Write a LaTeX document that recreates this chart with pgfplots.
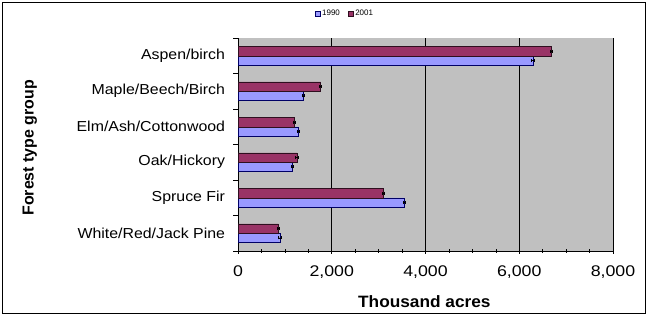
\documentclass[border=0pt]{standalone}
\usepackage{pgfplots}
\pgfplotsset{compat=1.18}
\usepackage{fontspec}
\setmainfont{Liberation Sans}
\definecolor{c1990}{HTML}{9999FF}
\definecolor{c2001}{HTML}{993366}
\definecolor{plotbg}{HTML}{C0C0C0}
\pgfplotstableread{
y x1990 x2001
0 890 862
1 3541 3099
2 1154 1254
3 1282 1197
4 1389 1760
5 6290 6682
}\data
\begin{document}
\begin{tikzpicture}
\useasboundingbox (0,0) rectangle (647bp,316bp);
\draw[black, line width=1bp] (2bp,2bp) rectangle (645bp,313bp);
\begin{axis}[
  at={(238bp,65bp)}, anchor=south west,
  scale only axis, width=375bp, height=213bp,
  xbar, xmin=0, xmax=8000, ymin=-0.5, ymax=5.5,
  axis background/.style={fill=plotbg},
  axis x line*=bottom, axis y line*=left,
  axis line style={black, line width=0.8bp},
  xtick={0,2000,4000,6000,8000},
  minor x tick num=3,
  xmajorgrids, major grid style={black, line width=0.8bp},
  x tick style={black, line width=0.6bp}, tick align=center,
  major tick length=5bp, minor tick length=3bp,
  /pgf/number format/assume math mode=true,
  /pgf/number format/1000 sep={,},
  xticklabel style={font=\fontsize{15.5}{15.5}\selectfont, xscale=1.15, yshift=-9bp},
  ytick={0,1,2,3,4,5},
  yticklabels={White/Red/Jack Pine, Spruce Fir, Oak/Hickory, Elm/Ash/Cottonwood, Maple/Beech/Birch, Aspen/birch},
  y tick style={draw=none},
  yticklabel style={font=\fontsize{14.5}{14.5}\selectfont, xscale=1.1, xshift=-6bp, anchor=east},
  extra y ticks={-0.5,0.5,1.5,2.5,3.5,4.5,5.5},
  extra y tick labels={},
  extra y tick style={tick align=outside, y tick style={draw=black, line width=0.6bp}, major tick length=5bp},
  xlabel={\textbf{Thousand acres}},
  xlabel style={font=\fontsize{16.5}{16.5}\selectfont, xscale=1.05, at={(axis description cs:0.497,-0.24)}, anchor=center},
  ylabel={\textbf{Forest type group}},
  ylabel style={font=\fontsize{16}{16}\selectfont, at={(axis description cs:-0.555,0.484)}, anchor=center},
  bar width=9.3bp,
  legend style={at={(axis description cs:0.285,1.113)}, anchor=center, draw=none, fill=none,
    font=\fontsize{8}{8}\selectfont, legend columns=2, /tikz/every even column/.append style={column sep=6bp}},
  legend image code/.code={\draw[#1] (0bp,-2.5bp) rectangle (5bp,2.5bp);},
]
\addplot[fill=c1990, draw=blue!40!black, line width=0.4bp, bar shift=-4.65bp,
  error bars/.cd, x dir=both, x fixed=25, error bar style={black, line width=0.6bp}, error mark options={rotate=90, mark size=1.5bp, black}]
  table[x=x1990, y=y] {\data};
\addplot[fill=c2001, draw=black!70!c2001, line width=0.4bp, bar shift=4.65bp,
  error bars/.cd, x dir=both, x fixed=25, error bar style={black, line width=0.6bp}, error mark options={rotate=90, mark size=1.5bp, black}]
  table[x=x2001, y=y] {\data};
\legend{1990, 2001}
\end{axis}
\end{tikzpicture}
\end{document}
